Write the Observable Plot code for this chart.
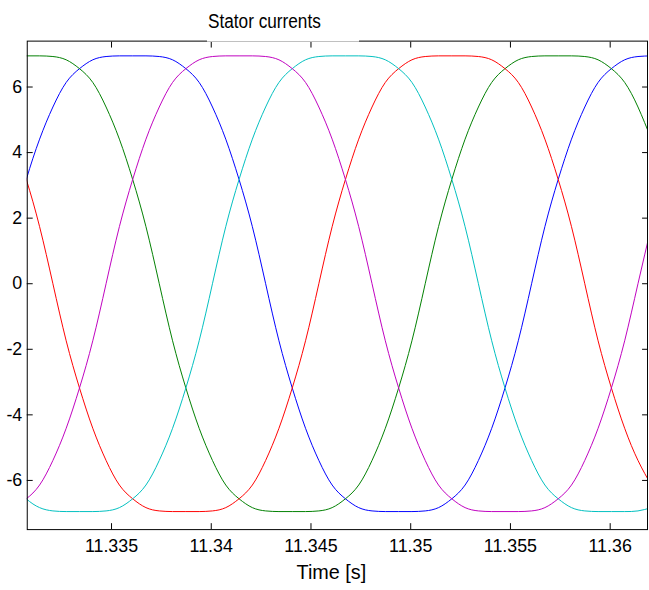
<!DOCTYPE html>
<html><head><meta charset="utf-8">
<script src="https://cdn.jsdelivr.net/npm/d3@7"></script>
<script src="https://cdn.jsdelivr.net/npm/@observablehq/plot@0.6"></script>
<style>
html,body{margin:0;padding:0;background:#fff;overflow:hidden;}
#wrap{position:relative;width:649px;height:590px;overflow:hidden;}
#title{position:absolute;left:207px;top:0;width:152px;height:42px;background:#fff;border-bottom:1px solid #c0c0c0;box-sizing:border-box;}
#title span{position:absolute;left:1px;top:11px;display:inline-block;font-family:"Liberation Sans",Arial,sans-serif;font-size:20px;line-height:20px;color:#000;white-space:nowrap;transform:scaleX(0.86);transform-origin:0 0;}
</style></head><body>
<div id="wrap"><div id="chart"></div><div id="title"><span>Stator currents</span></div></div>
<script>
// sample times [s]
const time = [11.330061,11.330727,11.331394,11.332061,11.332727,11.333394,11.334061,11.334727,11.335394,11.336061,
11.336727,11.337394,11.338061,11.338727,11.339394,11.340061,11.340727,11.341394,11.342061,11.342727,
11.343394,11.344061,11.344727,11.345394,11.346061,11.346727,11.347394,11.348061,11.348727,11.349394,
11.350061,11.350727,11.351394,11.352061,11.352727,11.353394,11.354061,11.354727,11.355394,11.356061,
11.356727,11.357394,11.358061,11.358727,11.359394,11.360061,11.360727,11.361394,11.362061];

// phase currents
const currentBlue = [1.74,3.18,4.41,5.39,6.14,6.56,6.83,6.93,6.95,6.95,6.95,6.93,6.83,6.56,6.14,5.39,4.41,3.18,1.74,0,
-1.74,-3.18,-4.41,-5.39,-6.14,-6.56,-6.83,-6.93,-6.95,-6.95,-6.95,-6.93,-6.83,-6.56,-6.14,-5.39,-4.41,-3.18,-1.74,0,
1.74,3.18,4.41,5.39,6.14,6.56,6.83,6.93,6.95];
const currentGreen = [6.95,6.95,6.95,6.93,6.83,6.56,6.14,5.39,4.41,3.18,1.74,0,-1.74,-3.18,-4.41,-5.39,-6.14,-6.56,-6.83,-6.93,
-6.95,-6.95,-6.95,-6.93,-6.83,-6.56,-6.14,-5.39,-4.41,-3.18,-1.74,0,1.74,3.18,4.41,5.39,6.14,6.56,6.83,6.93,
6.95,6.95,6.95,6.93,6.83,6.56,6.14,5.39,4.41];
const currentRed = [4.41,3.18,1.74,0,-1.74,-3.18,-4.41,-5.39,-6.14,-6.56,-6.83,-6.93,-6.95,-6.95,-6.95,-6.93,-6.83,-6.56,-6.14,-5.39,
-4.41,-3.18,-1.74,0,1.74,3.18,4.41,5.39,6.14,6.56,6.83,6.93,6.95,6.95,6.95,6.93,6.83,6.56,6.14,5.39,
4.41,3.18,1.74,0,-1.74,-3.18,-4.41,-5.39,-6.14];
const currentCyan = [-6.14,-6.56,-6.83,-6.93,-6.95,-6.95,-6.95,-6.93,-6.83,-6.56,-6.14,-5.39,-4.41,-3.18,-1.74,0,1.74,3.18,4.41,5.39,
6.14,6.56,6.83,6.93,6.95,6.95,6.95,6.93,6.83,6.56,6.14,5.39,4.41,3.18,1.74,0,-1.74,-3.18,-4.41,-5.39,
-6.14,-6.56,-6.83,-6.93,-6.95,-6.95,-6.95,-6.93,-6.83];
const currentMagenta = [-6.83,-6.56,-6.14,-5.39,-4.41,-3.18,-1.74,0,1.74,3.18,4.41,5.39,6.14,6.56,6.83,6.93,6.95,6.95,6.95,6.93,
6.83,6.56,6.14,5.39,4.41,3.18,1.74,0,-1.74,-3.18,-4.41,-5.39,-6.14,-6.56,-6.83,-6.93,-6.95,-6.95,-6.95,-6.93,
-6.83,-6.56,-6.14,-5.39,-4.41,-3.18,-1.74,0,1.74];

const seriesNames = ["i1","i2","i3","i4","i5"];
const seriesColors = ["#0000ff","#008000","#ff0000","#00bfbf","#bf00bf"];
const seriesValues = [currentBlue, currentGreen, currentRed, currentCyan, currentMagenta];

const xTicks = [11.335, 11.34, 11.345, 11.35, 11.355, 11.36];
const xTickLabels = ["11.335","11.34","11.345","11.35","11.355","11.36"];
const yTicks = [-6, -4, -2, 0, 2, 4, 6];
const yTickLabels = ["-6","-4","-2","0","2","4","6"];
const xLabel = "Time [s]";

const lines = seriesNames.map((name, s) =>
  Plot.line(seriesValues[s].map((v, i) => ({t: time[i], v})), {
    x: "t", y: "v", stroke: seriesColors[s], strokeWidth: 1, curve: "natural", clip: true
  })
);

const plot = Plot.plot({
  width: 655, height: 590,
  marginLeft: 27, marginRight: 2, marginTop: 41, marginBottom: 56,
  style: {fontFamily: "'Liberation Sans', Arial, sans-serif", fontSize: "18px", background: "#fff", color: "#000"},
  x: {domain: [11.330775, 11.361872]},
  y: {domain: [-7.5, 7.4]},
  marks: [
    ...lines,
    Plot.frame({stroke: "#000", strokeWidth: 1}),
    Plot.axisX({anchor: "bottom", ticks: xTicks, tickFormat: d => xTickLabels[xTicks.indexOf(d)], tickSize: -6, tickPadding: 16, label: null, fontSize: 18}),
    Plot.axisX({anchor: "top", ticks: xTicks, tickFormat: () => "", tickSize: -6, label: null}),
    Plot.axisY({anchor: "left", ticks: yTicks, tickFormat: d => yTickLabels[yTicks.indexOf(d)], tickSize: -6, tickPadding: 11, label: null, fontSize: 18}),
    Plot.axisY({anchor: "right", ticks: yTicks, tickFormat: () => "", tickSize: -6, label: null}),
    Plot.text([xLabel], {frameAnchor: "bottom", dy: 50, dx: -6, fontSize: 20, lineAnchor: "bottom", fill: "#000"})
  ]
});
document.getElementById("chart").appendChild(plot);
</script>
</body></html>
